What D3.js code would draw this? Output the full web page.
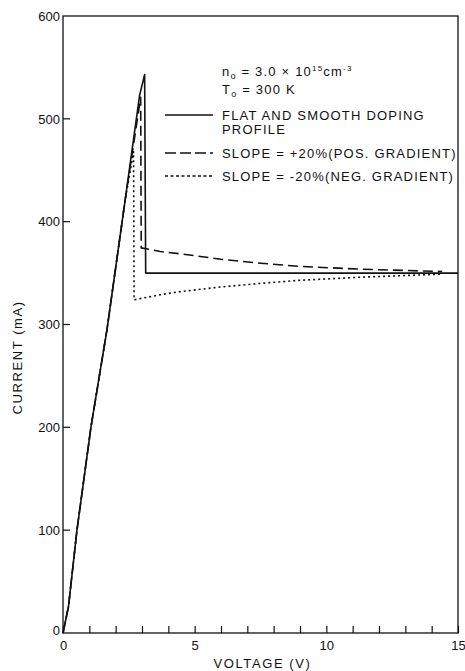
<!DOCTYPE html>
<html>
<head>
<meta charset="utf-8">
<script src="https://cdn.jsdelivr.net/npm/d3@7"></script>
<style>
  body { margin: 0; background: #fff; }
  svg { display: block; }
  text { font-family: 'Liberation Sans', 'DejaVu Sans', sans-serif; fill: #111; }
</style>
</head>
<body>
<div id="chart"></div>
<script>
// values (voltage in V, current in mA)
const flatV = [0, 0.21, 0.53, 1.06, 1.67, 2.36, 2.91, 3.1, 3.14, 15]
const flatI = [0, 26, 100, 200, 295, 421, 523, 543, 350, 350]

const posV = [0, 0.21, 0.53, 1.06, 1.67, 2.36, 2.95, 2.97, 3.7, 4.46, 6, 7.5, 9, 11.3, 14.4]
const posI = [0, 26, 100, 200, 295, 421, 521, 374.5, 371, 368.7, 363.5, 359.6, 356.5, 353.8, 351.5]

const negV = [0, 0.21, 0.53, 1.06, 1.67, 2.36, 2.68, 2.7, 3.7, 4.46, 6, 7.5, 9, 11.3, 14.4]
const negI = [0, 26, 100, 200, 295, 421, 468, 324, 329, 332, 336.5, 340, 343, 346, 349]

const xTicks = d3.range(0, 16, 1)
const xLabels = [0, 5, 10, 15]
const yTicks = [100, 200, 300, 400, 500]
const yLabels = [0, 100, 200, 300, 400, 500, 600]

const legendItems = [
  { label: ['FLAT AND SMOOTH DOPING', 'PROFILE'], dash: null },
  { label: ['SLOPE = +20%(POS. GRADIENT)'], dash: '11,4' },
  { label: ['SLOPE = -20%(NEG. GRADIENT)'], dash: '3,2.5' }
]

const W = 465
const H = 671
const margin = { top: 16, left: 63, right: 7, bottom: 38 }
const width = W - margin.left - margin.right
const height = H - margin.top - margin.bottom

const svg = d3
  .select('#chart')
  .append('svg')
  .attr('width', W)
  .attr('height', H)
  .append('g')
  .attr('transform', 'translate(' + margin.left + ',' + margin.top + ')')

const x = d3.scaleLinear().domain([0, 15]).range([0, width])
const y = d3.scaleLinear().domain([0, 600]).range([height, 0])

// frame
svg
  .append('rect')
  .attr('width', width)
  .attr('height', height)
  .attr('fill', 'none')
  .attr('stroke', '#111')
  .attr('stroke-width', 1.3)

// x axis, ticks pointing inward
svg
  .append('g')
  .attr('transform', `translate(0,${height})`)
  .call(
    d3
      .axisBottom(x)
      .tickValues(xTicks)
      .tickSizeInner(-7)
      .tickSizeOuter(0)
      .tickFormat(d => (xLabels.includes(d) ? d : ''))
      .tickPadding(10)
  )
  .call(g => g.select('.domain').remove())
  .call(g => g.selectAll('.tick line').attr('stroke', '#111').attr('stroke-width', 1.2))
  .call(g =>
    g
      .selectAll('.tick text')
      .style('font-size', '13px')
      .attr('fill', '#111')
      .attr('dy', '0.5em')
  )

// y axis labels
svg
  .append('g')
  .call(
    d3
      .axisLeft(y)
      .tickValues(yLabels)
      .tickSizeInner(0)
      .tickSizeOuter(0)
      .tickPadding(3)
  )
  .call(g => g.select('.domain').remove())
  .call(g => g.selectAll('.tick line').remove())
  .call(g =>
    g
      .selectAll('.tick text')
      .style('font-size', '13px')
      .attr('fill', '#111')
      .attr('dy', d => (d === 0 ? '0.15em' : '0.32em'))
  )

// y ticks pointing inward
svg
  .append('g')
  .selectAll('line')
  .data(yTicks)
  .join('line')
  .attr('x1', 0)
  .attr('x2', 7)
  .attr('y1', d => y(d))
  .attr('y2', d => y(d))
  .attr('stroke', '#111')
  .attr('stroke-width', 1.2)

// axis titles
svg
  .append('text')
  .attr('x', width / 2 + 2)
  .attr('y', height + 35)
  .attr('text-anchor', 'middle')
  .style('font-size', '13px')
  .style('letter-spacing', '1.6px')
  .text('VOLTAGE (V)')

svg
  .append('text')
  .attr('transform', `translate(${-41},${y(268)}) rotate(-90)`)
  .attr('text-anchor', 'middle')
  .style('font-size', '13px')
  .style('letter-spacing', '1.6px')
  .text('CURRENT (mA)')

// curves
const line = d3
  .line()
  .x(d => x(d[0]))
  .y(d => y(d[1]))

const series = [
  { v: negV, i: negI, dash: '2,3' },
  { v: posV, i: posI, dash: '10,5' },
  { v: flatV, i: flatI, dash: null }
]

svg
  .append('g')
  .selectAll('path')
  .data(series)
  .join('path')
  .attr('d', s => line(d3.zip(s.v, s.i)))
  .attr('fill', 'none')
  .attr('stroke', '#111')
  .attr('stroke-width', 1.6)
  .attr('stroke-linejoin', 'round')
  .attr('stroke-dasharray', s => s.dash)

// legend
const lx0 = 102
const lx1 = 150
const tx = 159

const params = svg
  .append('g')
  .style('font-size', '13px')
  .style('letter-spacing', '1.2px')

const n0 = params.append('text').attr('x', tx).attr('y', 60)
n0.append('tspan').text('n')
n0.append('tspan').attr('dy', 3).style('font-size', '9px').text('o')
n0.append('tspan').attr('dy', -3).text(' = 3.0 \u00d7 10')
n0.append('tspan').attr('dy', -5).style('font-size', '8px').text('15')
n0.append('tspan').attr('dy', 5).text('cm')
n0.append('tspan').attr('dy', -5).style('font-size', '8px').text('-3')

const t0 = params.append('text').attr('x', tx).attr('y', 78)
t0.append('tspan').text('T')
t0.append('tspan').attr('dy', 3).style('font-size', '9px').text('o')
t0.append('tspan').attr('dy', -3).text(' = 300 K')

const legend = svg
  .append('g')
  .selectAll('g')
  .data(legendItems)
  .join('g')
  .attr('transform', (d, i) => `translate(0,${[99, 137, 160][i]})`)

legend
  .append('line')
  .attr('x1', lx0)
  .attr('x2', lx1)
  .attr('stroke', '#111')
  .attr('stroke-width', 1.4)
  .attr('stroke-dasharray', d => d.dash)

legend
  .append('text')
  .style('font-size', '13px')
  .style('letter-spacing', '1.2px')
  .selectAll('tspan')
  .data(d => d.label)
  .join('tspan')
  .attr('x', tx)
  .attr('y', (d, i) => 5 + i * 14)
  .text(d => d)
</script>
</body>
</html>
